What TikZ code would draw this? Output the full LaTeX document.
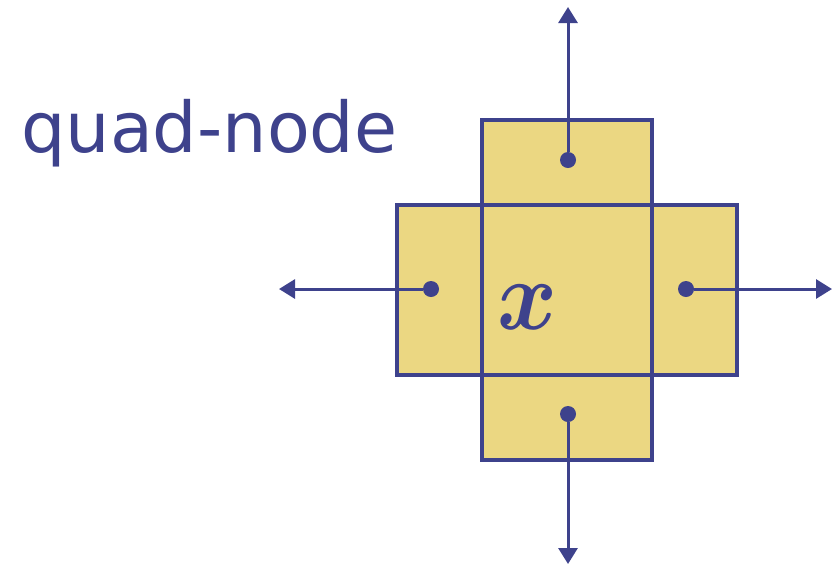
\documentclass[tikz,border=0pt]{standalone}
\usepackage{amsmath}
\usepackage{fontspec}
\newfontfamily\titlefont{DejaVu Sans}
\usetikzlibrary{positioning, arrows.meta}
\definecolor{blu}{RGB}{62,66,140}
\definecolor{giallo}{RGB}{235,215,130}

\begin{document}
\begin{tikzpicture}[x=1pt, y=-1pt,
        casella/.style={draw=blu, fill=giallo, line width=3.3pt, inner sep=0pt, outer sep=0pt},
        punto/.style={circle, fill=blu, inner sep=0pt, minimum size=16pt},
        freccia/.style={blu, line width=3pt, -{Triangle[length=16pt, width=19pt]}}]
        \useasboundingbox (0,0) rectangle (832,566);
        %titolo
        \node[anchor=base west, text=blu, inner sep=0pt] (titolo) at (21,152) {\titlefont\fontsize{70}{70}\selectfont quad-node};
        %quadrato centrale
        \node[casella, minimum width=170pt, minimum height=170pt] (centro) at (567,290) {};
        %caselle attorno
        \node[casella, minimum width=170pt, minimum height=85pt, above=0pt of centro] (nord) {};
        \node[casella, minimum width=170pt, minimum height=85pt, below=0pt of centro] (sud) {};
        \node[casella, minimum width=85pt, minimum height=170pt, left=0pt of centro] (ovest) {};
        \node[casella, minimum width=85pt, minimum height=170pt, right=0pt of centro] (est) {};
        %etichetta
        \node[text=blu, inner sep=0pt, xscale=9.1, yscale=10] (etic) at (527,307) {$\boldsymbol{x}$};
        %punti
        \node[punto] (pn) at (568,160) {};
        \node[punto] (ps) at (568,414) {};
        \node[punto] (po) at (431,289) {};
        \node[punto] (pe) at (686,289) {};
        %frecce
        \coordinate (fn) at (568,7);
        \coordinate (fs) at (568,564);
        \coordinate (fo) at (279,289);
        \coordinate (fe) at (832,289);
        \draw[freccia] (pn) -- (fn);
        \draw[freccia] (ps) -- (fs);
        \draw[freccia] (po) -- (fo);
        \draw[freccia] (pe) -- (fe);
    \end{tikzpicture}
\end{document}
